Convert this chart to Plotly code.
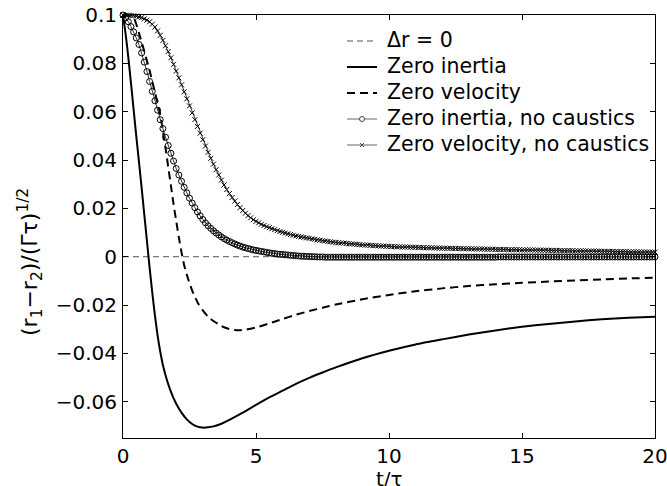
import numpy as np
import plotly.graph_objects as go

FONT = "DejaVu Sans"

# ---------------- data ----------------
# reference line dr = 0
T_ZERO = [0, 20]
V_ZERO = [0, 0]

# Zero inertia (solid)
T_ZI = [0, 0.1, 0.2, 0.3, 0.4, 0.5, 0.6, 0.7, 0.8, 0.9, 1.0, 1.1, 1.2, 1.3, 1.4,
        1.5, 1.6, 1.7, 1.8, 1.9, 2.0, 2.2, 2.4, 2.6, 2.8, 3.0, 3.2, 3.4, 3.6, 3.8,
        4.0, 4.5, 5.0, 5.5, 6.0, 6.5, 7.0, 7.5, 8.0, 9, 10, 11, 12, 13, 14, 15,
        16, 17, 18, 19, 20]
V_ZI = [0.1, 0.092, 0.0825, 0.0718, 0.0608, 0.0498, 0.0392, 0.0285, 0.0175,
        0.0065, -0.0045, -0.0148, -0.0243, -0.0325, -0.0392, -0.0448, -0.0490,
        -0.0527, -0.0558, -0.0585, -0.0608, -0.0645, -0.0673, -0.0692, -0.0703,
        -0.0707, -0.0706, -0.0702, -0.0695, -0.0686, -0.0675, -0.0645, -0.0613,
        -0.0582, -0.0554, -0.0526, -0.0501, -0.0479, -0.0458, -0.0420, -0.0389,
        -0.0363, -0.0342, -0.0322, -0.0305, -0.0290, -0.0278, -0.0268, -0.0259,
        -0.0253, -0.0248]

# Zero velocity (dashed)
T_ZV = [0, 0.2, 0.4, 0.6, 0.8, 1.0, 1.2, 1.4, 1.5, 1.6, 1.7, 1.8, 1.9, 2.0, 2.1,
        2.2, 2.3, 2.4, 2.6, 2.8, 3.0, 3.2, 3.4, 3.6, 3.8, 4.0, 4.2, 4.4, 4.6, 4.8,
        5.0, 5.5, 6, 6.5, 7, 7.5, 8, 9, 10, 11, 12, 13, 14, 15, 16, 17, 18, 19, 20]
V_ZV = [0.1, 0.0998, 0.0988, 0.0925, 0.0850, 0.0770, 0.0680, 0.0588, 0.0520,
        0.0448, 0.0372, 0.0295, 0.0218, 0.0148, 0.0080, 0.0018, -0.0035, -0.0075,
        -0.0140, -0.0188, -0.0222, -0.0248, -0.0266, -0.0280, -0.0292, -0.0299,
        -0.0303, -0.0304, -0.0302, -0.0298, -0.0293, -0.0276, -0.0258, -0.0240,
        -0.0225, -0.0211, -0.0198, -0.0176, -0.0158, -0.0143, -0.0131, -0.0121,
        -0.0114, -0.0108, -0.0103, -0.0098, -0.0094, -0.0090, -0.0087]

# sampling grid of the two marker series (t = 0, 0.1, ..., 20)
T_FINE = np.round(np.arange(201) * 0.1, 1)

# Zero inertia, no caustics (circles)
V_ZI_NC = [
    0.1000, 0.0988, 0.0972, 0.0952, 0.0930, 0.0905, 0.0878, 0.0843, 0.0805, 0.0766,
    0.0725, 0.0684, 0.0645, 0.0606, 0.0567, 0.0530, 0.0494, 0.0460, 0.0428, 0.0396,
    0.0365, 0.0338, 0.0312, 0.0287, 0.0264, 0.0242, 0.0222, 0.0203, 0.0185, 0.0169,
    0.0154, 0.0140, 0.0128, 0.0117, 0.0107, 0.0098, 0.0090, 0.0082, 0.0075, 0.0069,
    0.0063, 0.0058, 0.0053, 0.0048, 0.0044, 0.0040, 0.0037, 0.0034, 0.0031, 0.0028,
    0.0026, 0.0024, 0.0022, 0.0020, 0.0018, 0.0016, 0.0014, 0.0013, 0.0011, 0.0010,
    0.0009, 0.0008, 0.0007, 0.0006, 0.0005, 0.0004, 0.0003, 0.0002, 0.0002, 0.0001,
    0.0001, 0.0000, 0.0000, -0.0001, -0.0001, -0.0001,
    -0.0002, -0.0002, -0.0002, -0.0002, -0.0002, -0.0002, -0.0002, -0.0002, -0.0002, -0.0002,
    -0.0002, -0.0002, -0.0002, -0.0002, -0.0002, -0.0002, -0.0002, -0.0002, -0.0002, -0.0002,
    -0.0002, -0.0002, -0.0002, -0.0002, -0.0002, -0.0002, -0.0002, -0.0002, -0.0002, -0.0002,
    -0.0002, -0.0002, -0.0002, -0.0002, -0.0002, -0.0002, -0.0002, -0.0002, -0.0002, -0.0002,
    -0.0002, -0.0002, -0.0002, -0.0002, -0.0002, -0.0002, -0.0002, -0.0002, -0.0002, -0.0002,
    -0.0002, -0.0002, -0.0002, -0.0002, -0.0002, -0.0002, -0.0002, -0.0002, -0.0002, -0.0002,
    -0.0002, -0.0002, -0.0002, -0.0002, -0.0002,
    -0.0001, -0.0001, -0.0001, -0.0001, -0.0001, -0.0001, -0.0001, -0.0001, -0.0001, -0.0001,
    -0.0001, -0.0001, -0.0001, -0.0001, -0.0001, -0.0001, -0.0001, -0.0001, -0.0001, -0.0001,
    -0.0001, -0.0001, -0.0001, -0.0001, -0.0001, -0.0001, -0.0001, -0.0001, -0.0001, -0.0001,
    -0.0001, -0.0001, -0.0001, -0.0001, -0.0001, -0.0001, -0.0001, -0.0001, -0.0001, -0.0001,
    -0.0001, -0.0001, -0.0001, -0.0001, -0.0001, -0.0001, -0.0001, -0.0001, -0.0001, -0.0001,
    -0.0001, -0.0001, -0.0001, -0.0001, -0.0001, -0.0001, -0.0001, -0.0001, -0.0001, -0.0001,
]

# Zero velocity, no caustics (crosses)
V_ZV_NC = [
    0.1000, 0.1000, 0.0999, 0.0998, 0.0997, 0.0995, 0.0992, 0.0989, 0.0984, 0.0979,
    0.0972, 0.0962, 0.0950, 0.0934, 0.0916, 0.0895, 0.0873, 0.0849, 0.0823, 0.0796,
    0.0768, 0.0740, 0.0711, 0.0682, 0.0653, 0.0624, 0.0595, 0.0567, 0.0539, 0.0511,
    0.0484, 0.0458, 0.0432, 0.0407, 0.0383, 0.0360, 0.0338, 0.0317, 0.0297, 0.0278,
    0.0261, 0.0245, 0.0230, 0.0216, 0.0203, 0.0191, 0.0180, 0.0170, 0.0161, 0.0153,
    0.0146, 0.0140, 0.0134, 0.0129, 0.0124, 0.0120, 0.0116, 0.0112, 0.0108, 0.0104,
    0.0101, 0.0098, 0.0095, 0.0092, 0.0089, 0.0086, 0.0084, 0.0082, 0.0080, 0.0078,
    0.0076, 0.0074, 0.0072, 0.0070, 0.0068, 0.0066, 0.0065, 0.0063, 0.0062, 0.0060,
    0.0059,
    0.0058, 0.0057, 0.0056, 0.0055, 0.0054, 0.0053, 0.0052, 0.0051, 0.0050, 0.0049,
    0.0048, 0.0048, 0.0047, 0.0046, 0.0046, 0.0045, 0.0044, 0.0044, 0.0043, 0.0043,
    0.0042, 0.0042, 0.0041, 0.0041, 0.0040, 0.0040, 0.0040, 0.0039, 0.0039, 0.0039,
    0.0038, 0.0038, 0.0038, 0.0037, 0.0037, 0.0037, 0.0036, 0.0036, 0.0036, 0.0035,
    0.0035, 0.0035, 0.0035, 0.0034, 0.0034, 0.0034, 0.0034, 0.0033, 0.0033, 0.0033,
    0.0033, 0.0032, 0.0032, 0.0032, 0.0032, 0.0031, 0.0031, 0.0031, 0.0031, 0.0030,
    0.0030, 0.0030, 0.0030, 0.0030, 0.0029, 0.0029, 0.0029, 0.0029, 0.0029, 0.0028,
    0.0028, 0.0028, 0.0028, 0.0028, 0.0027, 0.0027, 0.0027, 0.0027, 0.0027, 0.0026,
    0.0026, 0.0026, 0.0026, 0.0026, 0.0025, 0.0025, 0.0025, 0.0025, 0.0025, 0.0024,
    0.0024, 0.0024, 0.0024, 0.0024, 0.0023, 0.0023, 0.0023, 0.0023, 0.0023, 0.0022,
    0.0022, 0.0022, 0.0022, 0.0022, 0.0021, 0.0021, 0.0021, 0.0021, 0.0021, 0.0020,
    0.0020, 0.0020, 0.0020, 0.0020, 0.0020, 0.0019, 0.0019, 0.0019, 0.0019, 0.0019,
]

SERIES_NAMES = ["\u0394r = 0", "Zero inertia", "Zero velocity",
                "Zero inertia, no caustics", "Zero velocity, no caustics"]

X_TICKS = [0, 5, 10, 15, 20]
X_TICK_LABELS = ["0", "5", "10", "15", "20"]
Y_TICKS = [-0.06, -0.04, -0.02, 0, 0.02, 0.04, 0.06, 0.08, 0.1]
Y_TICK_LABELS = ["\u22120.06", "\u22120.04", "\u22120.02", "0", "0.02", "0.04",
                 "0.06", "0.08", "0.1"]

X_TITLE = "t/\u03c4"
Y_TITLE = "(r<sub>1</sub>\u2212r<sub>2</sub>)/(\u0393\u03c4)<sup>1/2</sup>"

# ---------------- geometry ----------------
OFF = 0                       # page body margin is removed by the post script
FIG_W, FIG_H = 667, 486
M_L, M_R, M_T, M_B = 123, 12, 15, 48
PW = FIG_W - M_L - M_R
PH = FIG_H - M_T - M_B


def px_x(X):
    """window pixel x -> paper x"""
    return (X - OFF - M_L) / PW


def px_y(Y):
    """window pixel y -> paper y"""
    return (FIG_H - M_B - (Y - OFF)) / PH


# ---------------- figure ----------------
fig = go.Figure()
fig.add_trace(go.Scatter(
    x=T_ZERO, y=V_ZERO, mode="lines", name=SERIES_NAMES[0],
    line=dict(color="#555555", width=1, dash="6px,4px")))
fig.add_trace(go.Scatter(
    x=T_ZI, y=V_ZI, mode="lines", name=SERIES_NAMES[1],
    line=dict(color="black", width=2, shape="spline", smoothing=0.6)))
fig.add_trace(go.Scatter(
    x=T_ZV, y=V_ZV, mode="lines", name=SERIES_NAMES[2],
    line=dict(color="black", width=2, dash="8px,5px", shape="spline", smoothing=0.6)))
fig.add_trace(go.Scatter(
    x=T_FINE, y=V_ZI_NC, mode="lines+markers", name=SERIES_NAMES[3],
    cliponaxis=False,
    line=dict(color="#333333", width=1),
    marker=dict(symbol="circle-open", size=6, color="black", line=dict(width=1))))
fig.add_trace(go.Scatter(
    x=T_FINE, y=V_ZV_NC, mode="lines+markers", name=SERIES_NAMES[4],
    cliponaxis=False,
    line=dict(color="#333333", width=1),
    marker=dict(symbol="x-thin-open", size=5, color="black", line=dict(width=1))))

axis_common = dict(
    ticks="inside", ticklen=5, tickwidth=1, tickcolor="black",
    showline=True, linecolor="black", linewidth=1, mirror="ticks",
    showgrid=False, zeroline=False, automargin=False,
    ticklabeloverflow="allow",
    tickfont=dict(family=FONT, size=20, color="black"),
)
fig.update_xaxes(range=[0, 20], tickvals=X_TICKS, ticktext=X_TICK_LABELS, **axis_common)
fig.update_yaxes(range=[-0.075, 0.1], tickvals=Y_TICKS, ticktext=Y_TICK_LABELS,
                 ticklabelstandoff=1, **axis_common)

# ---------------- hand-drawn legend (MATLAB style) ----------------
LEG_TEXT_X = 385
LEG_LINE_X0, LEG_LINE_X1 = 347, 377
LEG_ROWS_Y = [40, 66, 92, 118, 144]
LEG_STYLES = [
    dict(color="#555555", width=1, dash="6px,4px"),
    dict(color="black", width=2, dash="solid"),
    dict(color="black", width=2, dash="8px,5px"),
    dict(color="#666666", width=1, dash="solid"),
    dict(color="#666666", width=1, dash="solid"),
]

annotations = []
shapes = []
for name, ry, st in zip(SERIES_NAMES, LEG_ROWS_Y, LEG_STYLES):
    annotations.append(dict(
        text=name, xref="paper", yref="paper", x=px_x(LEG_TEXT_X), y=px_y(ry),
        xanchor="left", yanchor="middle", showarrow=False,
        font=dict(family=FONT, size=20.5, color="black")))
    shapes.append(dict(
        type="line", xref="paper", yref="paper",
        x0=px_x(LEG_LINE_X0), x1=px_x(LEG_LINE_X1), y0=px_y(ry + 1), y1=px_y(ry + 1),
        line=st))

cx = px_x((LEG_LINE_X0 + LEG_LINE_X1) / 2)
# circle marker sample
shapes.append(dict(
    type="circle", xref="paper", yref="paper", xsizemode="pixel", ysizemode="pixel",
    xanchor=cx, yanchor=px_y(LEG_ROWS_Y[3] + 1), x0=-2.5, x1=2.5, y0=-2.5, y1=2.5,
    line=dict(color="#444444", width=1), fillcolor="white"))
# cross marker sample
for sgn in (1, -1):
    shapes.append(dict(
        type="line", xref="paper", yref="paper", xsizemode="pixel", ysizemode="pixel",
        xanchor=cx, yanchor=px_y(LEG_ROWS_Y[4] + 1), x0=-2, x1=2, y0=-2 * sgn, y1=2 * sgn,
        line=dict(color="#444444", width=1)))

# axis titles
annotations.append(dict(
    text=X_TITLE, xref="paper", yref="paper", x=px_x(389), y=px_y(479),
    xanchor="center", yanchor="middle", showarrow=False,
    font=dict(family=FONT, size=20, color="black")))
annotations.append(dict(
    text=Y_TITLE, xref="paper", yref="paper", x=px_x(30), y=px_y(262),
    xanchor="center", yanchor="middle", showarrow=False, textangle=-90,
    font=dict(family=FONT, size=22, color="black")))

fig.update_layout(
    width=FIG_W, height=FIG_H,
    margin=dict(l=M_L, r=M_R, t=M_T, b=M_B, pad=0),
    plot_bgcolor="white", paper_bgcolor="white",
    font=dict(family=FONT, size=20, color="black"),
    showlegend=False,
    annotations=annotations,
    shapes=shapes,
)

fig.write_html(
    "out.html",
    config={"displayModeBar": False},
    post_script="document.body.style.margin='0px';"
                "document.body.style.overflow='hidden';"
                "document.documentElement.style.overflow='hidden';",
)
